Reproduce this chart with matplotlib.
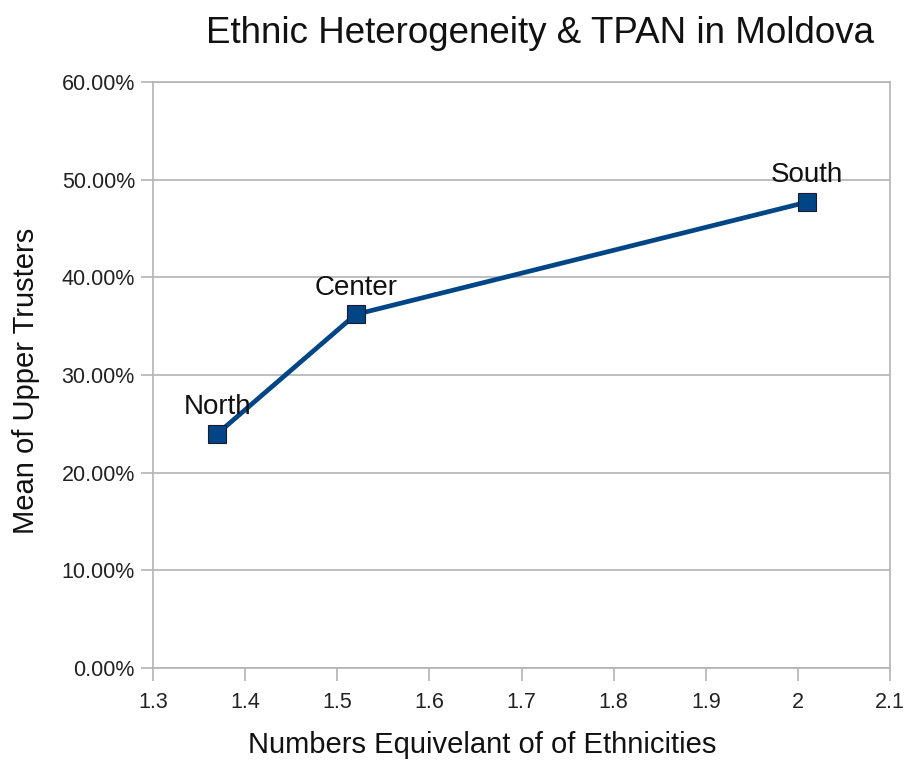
import matplotlib
matplotlib.use("Agg")
import matplotlib.pyplot as plt
from matplotlib.ticker import FuncFormatter, MultipleLocator

plt.rcParams['font.family'] = ['Liberation Sans', 'DejaVu Sans']

regions = ["North", "Center", "South"]
ethnic_equiv = [1.37, 1.52, 2.01]
upper_trusters = [24.0, 36.2, 47.7]
x_ticks = [1.3, 1.4, 1.5, 1.6, 1.7, 1.8, 1.9, 2.0, 2.1]
x_tick_labels = ["1.3", "1.4", "1.5", "1.6", "1.7", "1.8", "1.9", "2", "2.1"]

fig = plt.figure(figsize=(9.08, 7.69), dpi=100)
ax = fig.add_axes([0.1685, 0.1313, 0.8117, 0.7621])

grid_color = "#b3b3b3"
line_color = "#004586"

ax.plot(ethnic_equiv, upper_trusters, color=line_color, linewidth=3.4,
        marker="s", markersize=13, markerfacecolor=line_color,
        markeredgecolor="#1a1a2e", markeredgewidth=0.8, zorder=3)

for name, x, y in zip(regions, ethnic_equiv, upper_trusters):
    ax.annotate(name, (x, y), xytext=(0, 10), textcoords="offset points",
                ha="center", va="bottom", fontsize=20, color="#111111", zorder=4)

ax.set_xlim(1.3, 2.1)
ax.set_ylim(0, 60)
ax.set_xticks(x_ticks)
ax.set_xticklabels(x_tick_labels)
ax.yaxis.set_major_locator(MultipleLocator(10))
ax.yaxis.set_major_formatter(FuncFormatter(lambda v, p: f"{v:.2f}%"))

ax.grid(axis="y", color=grid_color, linewidth=1.2)
ax.set_axisbelow(True)
for side in ["left", "bottom", "right", "top"]:
    ax.spines[side].set_color(grid_color)
    ax.spines[side].set_linewidth(1.2)
ax.tick_params(axis="both", colors=grid_color, labelcolor="#222222",
               labelsize=15.5, length=9, width=1.2, direction="out")
ax.tick_params(axis="x", pad=8)
ax.tick_params(axis="y", pad=4)

ax.set_xlabel("Numbers Equivelant of of Ethnicities", fontsize=21, color="#111111")
ax.set_ylabel("Mean of Upper Trusters", fontsize=21, color="#111111")
ax.xaxis.set_label_coords(0.446, -0.107)
ax.yaxis.set_label_coords(-0.153, 0.49)

fig.text(0.595, 0.957, "Ethnic Heterogeneity & TPAN in Moldova", ha="center", va="center",
         fontsize=26.5, color="#111111")

fig.savefig("out.png", dpi=100, facecolor="white")
